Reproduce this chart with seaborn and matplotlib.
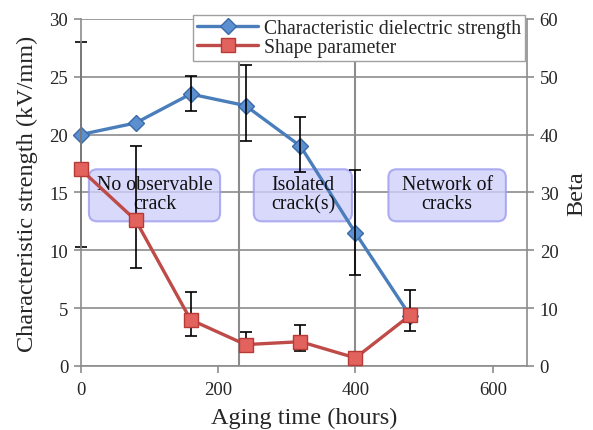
import numpy as np
import pandas as pd
import matplotlib
matplotlib.use("Agg")
import matplotlib.pyplot as plt
from matplotlib.patches import FancyBboxPatch
import seaborn as sns

# Aging time (hours)
hours = [0, 80, 160, 240, 320, 400, 480]
# Characteristic dielectric strength (kV/mm), left axis
strength = [20.0, 21.0, 23.5, 22.5, 19.0, 11.5, 4.3]
strength_err_low = [10.3, np.nan, 22.0, 19.4, 16.8, 7.9, np.nan]
strength_err_high = [28.0, np.nan, 25.1, 26.0, 21.5, 16.9, np.nan]
# Weibull shape parameter (Beta), right axis
beta = [34.0, 25.2, 8.0, 3.7, 4.2, 1.4, 8.8]
beta_err_low = [np.nan, 17.0, 5.2, 3.0, 2.6, np.nan, 6.0]
beta_err_high = [np.nan, 38.0, 12.8, 5.8, 7.0, np.nan, 13.2]
# Aging stages
stage_labels = ["No observable\ncrack", "Isolated\ncrack(s)", "Network of\ncracks"]
stage_bounds = [230, 400]

x_ticks = [0, 200, 400, 600]
left_ticks = [0, 5, 10, 15, 20, 25, 30]
right_ticks = [0, 10, 20, 30, 40, 50, 60]

sns.set_theme(style="white")
plt.rcParams["font.family"] = ["Liberation Serif", "DejaVu Serif"]

BLUE_LINE = "#4a7ebb"
BLUE_FACE = "#5b8fcf"
BLUE_EDGE = "#3a6aa8"
RED_LINE = "#be4b48"
RED_FACE = "#e2625e"
RED_EDGE = "#b83a36"
GRID = "#8c8c8c"

fig = plt.figure(figsize=(5.93, 4.31), dpi=100)
ax = fig.add_axes([0.136, 0.1485, 0.753, 0.8055])
ax2 = ax.twinx()

df = pd.DataFrame({"hours": hours, "strength": strength, "beta": beta})

ax.set_xlim(0, 650)
ax.set_ylim(0, 30)
ax2.set_ylim(0, 60)

# horizontal grid
for v in left_ticks:
    ax.axhline(v, color=GRID, lw=1.2, zorder=0.5)
# stage separators
for b in stage_bounds:
    ax.axvline(b, color=GRID, lw=1.5, zorder=0.6)

# stage boxes
px_x = 0.753 * 593 / 650.0     # pixels per hour
px_y = 0.8055 * 431 / 30.0     # pixels per kV/mm
aspect = px_x / px_y
box_x = [(12, 203), (252, 395), (448, 619)]
for (x0, x1), lab in zip(box_x, stage_labels):
    y0, y1 = 12.5, 17.0
    patch = FancyBboxPatch((x0, y0), x1 - x0, y1 - y0,
                           boxstyle="round,pad=0,rounding_size=12",
                           mutation_aspect=aspect,
                           facecolor="#cfd0fa", edgecolor="#9d9cf0",
                           lw=1.5, alpha=0.8, zorder=1)
    ax.add_patch(patch)
    ax.text((x0 + x1) / 2, (y0 + y1) / 2 + 0.1, lab, ha="center", va="center",
            fontsize=14.3, color="#111111", linespacing=1.0, zorder=3)

# dielectric strength
sns.lineplot(data=df, x="hours", y="strength", ax=ax, color=BLUE_LINE,
             lw=2.4, marker="D", markersize=8, markerfacecolor=BLUE_FACE,
             markeredgecolor=BLUE_EDGE, markeredgewidth=1.0,
             label="Characteristic dielectric strength", legend=False,
             zorder=2, clip_on=False)
s = np.array(strength)
lo = np.array(strength_err_low)
hi = np.array(strength_err_high)
m = ~np.isnan(lo)
eb = ax.errorbar(np.array(hours)[m], s[m], yerr=[s[m] - lo[m], hi[m] - s[m]],
                 fmt="none", ecolor="black", elinewidth=1.2, capsize=4.5,
                 capthick=1.2, zorder=2.5)
for art in eb.lines[1] + eb.lines[2]:
    art.set_clip_on(False)

# shape parameter
sns.lineplot(data=df, x="hours", y="beta", ax=ax2, color=RED_LINE,
             lw=2.4, marker="s", markersize=9.5, markerfacecolor=RED_FACE,
             markeredgecolor=RED_EDGE, markeredgewidth=1.0,
             label="Shape parameter", legend=False, zorder=3, clip_on=False)
b_ = np.array(beta)
lo = np.array(beta_err_low)
hi = np.array(beta_err_high)
m = ~np.isnan(lo)
eb = ax2.errorbar(np.array(hours)[m], b_[m], yerr=[b_[m] - lo[m], hi[m] - b_[m]],
                  fmt="none", ecolor="black", elinewidth=1.2, capsize=4.5,
                  capthick=1.2, zorder=2.5)
for art in eb.lines[1] + eb.lines[2]:
    art.set_clip_on(False)

# axes styling
ax.set_xticks(x_ticks)
ax.set_yticks(left_ticks)
ax2.set_yticks(right_ticks)
ax.set_xlabel("Aging time (hours)", fontsize=17.5, labelpad=6)
ax.set_ylabel("Characteristic strength (kV/mm)", fontsize=17.5, labelpad=8)
ax2.set_ylabel("Beta", fontsize=17.5, labelpad=6)
for a in (ax, ax2):
    a.tick_params(axis="both", labelsize=13.5, length=5, width=1.2,
                  color=GRID, pad=4, direction="out")
    for sp in a.spines.values():
        sp.set_visible(False)
ax.tick_params(axis="x", bottom=True, pad=6)
ax.tick_params(axis="y", left=True)
ax2.tick_params(axis="y", right=True)
ax.spines["left"].set_visible(True)
ax.spines["bottom"].set_visible(True)
ax2.spines["right"].set_visible(True)
for sp in (ax.spines["left"], ax.spines["bottom"], ax2.spines["right"]):
    sp.set_color(GRID)
    sp.set_linewidth(1.2)

h1, l1 = ax.get_legend_handles_labels()
h2, l2 = ax2.get_legend_handles_labels()
leg = ax2.legend(h1 + h2, l1 + l2, loc="upper left",
                 bbox_to_anchor=(193 / 593, 1 - 16 / 431),
                 bbox_transform=fig.transFigure, fontsize=14.2,
                 frameon=True, fancybox=False, framealpha=1,
                 edgecolor="#a0a0a0", handlelength=3.1, handletextpad=0.3,
                 borderpad=0.2, labelspacing=0.02, borderaxespad=0)
leg.get_frame().set_linewidth(1.0)
leg.set_zorder(10)

fig.savefig("out.png", dpi=100)
